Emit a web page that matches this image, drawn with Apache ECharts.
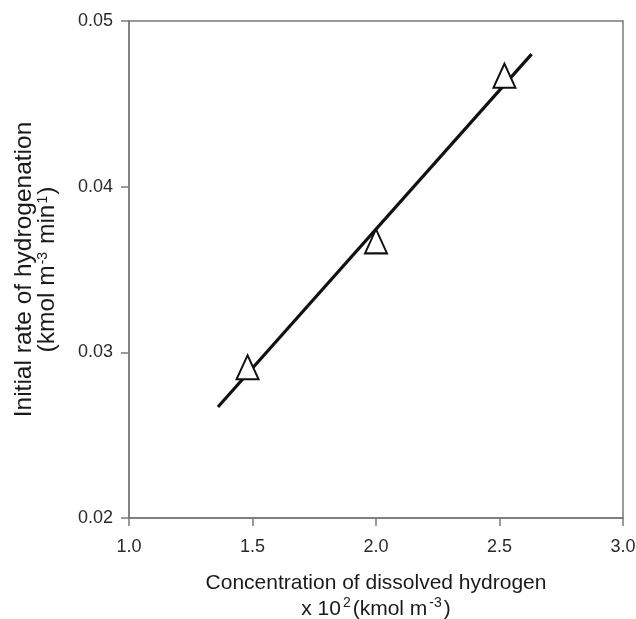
<!DOCTYPE html>
<html>
<head>
<meta charset="utf-8">
<script src="https://cdn.jsdelivr.net/npm/echarts@6/dist/echarts.min.js"></script>
<style>
  html, body { margin: 0; padding: 0; background: #fff; }
  #chart { width: 636px; height: 619px; }
</style>
</head>
<body>
<div id="chart"></div>
<script>
// measured points
const concentration = [1.48, 2.0, 2.52];
const initialRate = [0.0291, 0.0367, 0.0467];

// fitted line end points
const fitX = [1.36, 2.63];
const fitY = [0.0267, 0.0480];

const xTicks = [1.0, 1.5, 2.0, 2.5, 3.0];
const yTicks = [0.02, 0.03, 0.04, 0.05];

const chart = echarts.init(document.getElementById('chart'));

const font = 'Liberation Sans, Arial, sans-serif';
const axisGray = '#7a7a7a';
const textColor = '#1a1a1a';

const option = {
    animation: false,
    grid: {
        left: 129,
        right: 13,
        top: 21,
        bottom: 101,
        outerBoundsMode: 'none',
        containLabel: false,
        show: true,
        borderColor: axisGray,
        borderWidth: 1.5,
    },
    xAxis: {
        type: 'value',
        min: xTicks[0],
        max: xTicks[xTicks.length - 1],
        interval: 0.5,
        splitLine: { show: false },
        axisLine: { lineStyle: { color: axisGray, width: 1.5 } },
        axisTick: { show: true, length: 8, lineStyle: { color: axisGray, width: 1.5 } },
        axisLabel: {
            margin: 20,
            color: '#2a2a2a',
            fontSize: 18,
            fontFamily: font,
            formatter: v => v.toFixed(1),
        },
        name: '{a|Concentration of dissolved hydrogen}\n{a|x 10}{s|2}{a|(kmol m}{s|-3}{a|)}',
        nameLocation: 'middle',
        nameGap: 52,
        nameTextStyle: {
            color: textColor,
            fontFamily: font,
            lineHeight: 26,
            rich: {
                a: { fontSize: 21, fontFamily: font, color: textColor, lineHeight: 26 },
                s: { fontSize: 14, fontFamily: font, color: textColor, verticalAlign: 'top', padding: [0, 2, 8, 2], lineHeight: 26 },
            },
        },
    },
    yAxis: {
        type: 'value',
        min: yTicks[0],
        max: yTicks[yTicks.length - 1],
        interval: 0.01,
        splitLine: { show: false },
        axisLine: { lineStyle: { color: axisGray, width: 1.5 } },
        axisTick: { show: true, length: 8, lineStyle: { color: axisGray, width: 1.5 } },
        axisLabel: {
            margin: 16,
            color: '#2a2a2a',
            fontSize: 18,
            fontFamily: font,
            formatter: v => v.toFixed(2),
        },
        name: '{a|Initial rate of hydrogenation}\n{a|(kmol m}{s|-3}{a| min}{s|1}{a|)}',
        nameLocation: 'middle',
        nameRotate: 90,
        nameGap: 70,
        nameTextStyle: {
            color: textColor,
            fontFamily: font,
            lineHeight: 23,
            rich: {
                a: { fontSize: 24.5, fontFamily: font, color: textColor, lineHeight: 23 },
                s: { fontSize: 14, fontFamily: font, color: textColor, verticalAlign: 'top', padding: [0, 1, 8, 1], lineHeight: 23 },
            },
        },
    },
    series: [
        {
            type: 'line',
            data: fitX.map((x, i) => [x, fitY[i]]),
            showSymbol: false,
            lineStyle: { color: '#111', width: 3.2 },
            z: 2,
        },
        {
            type: 'scatter',
            data: concentration.map((x, i) => [x, initialRate[i]]),
            symbol: 'triangle',
            symbolSize: [22, 24],
            itemStyle: { color: '#fff', borderColor: '#111', borderWidth: 2, opacity: 1 },
            z: 3,
        },
    ],
};

chart.setOption(option);
</script>
</body>
</html>
